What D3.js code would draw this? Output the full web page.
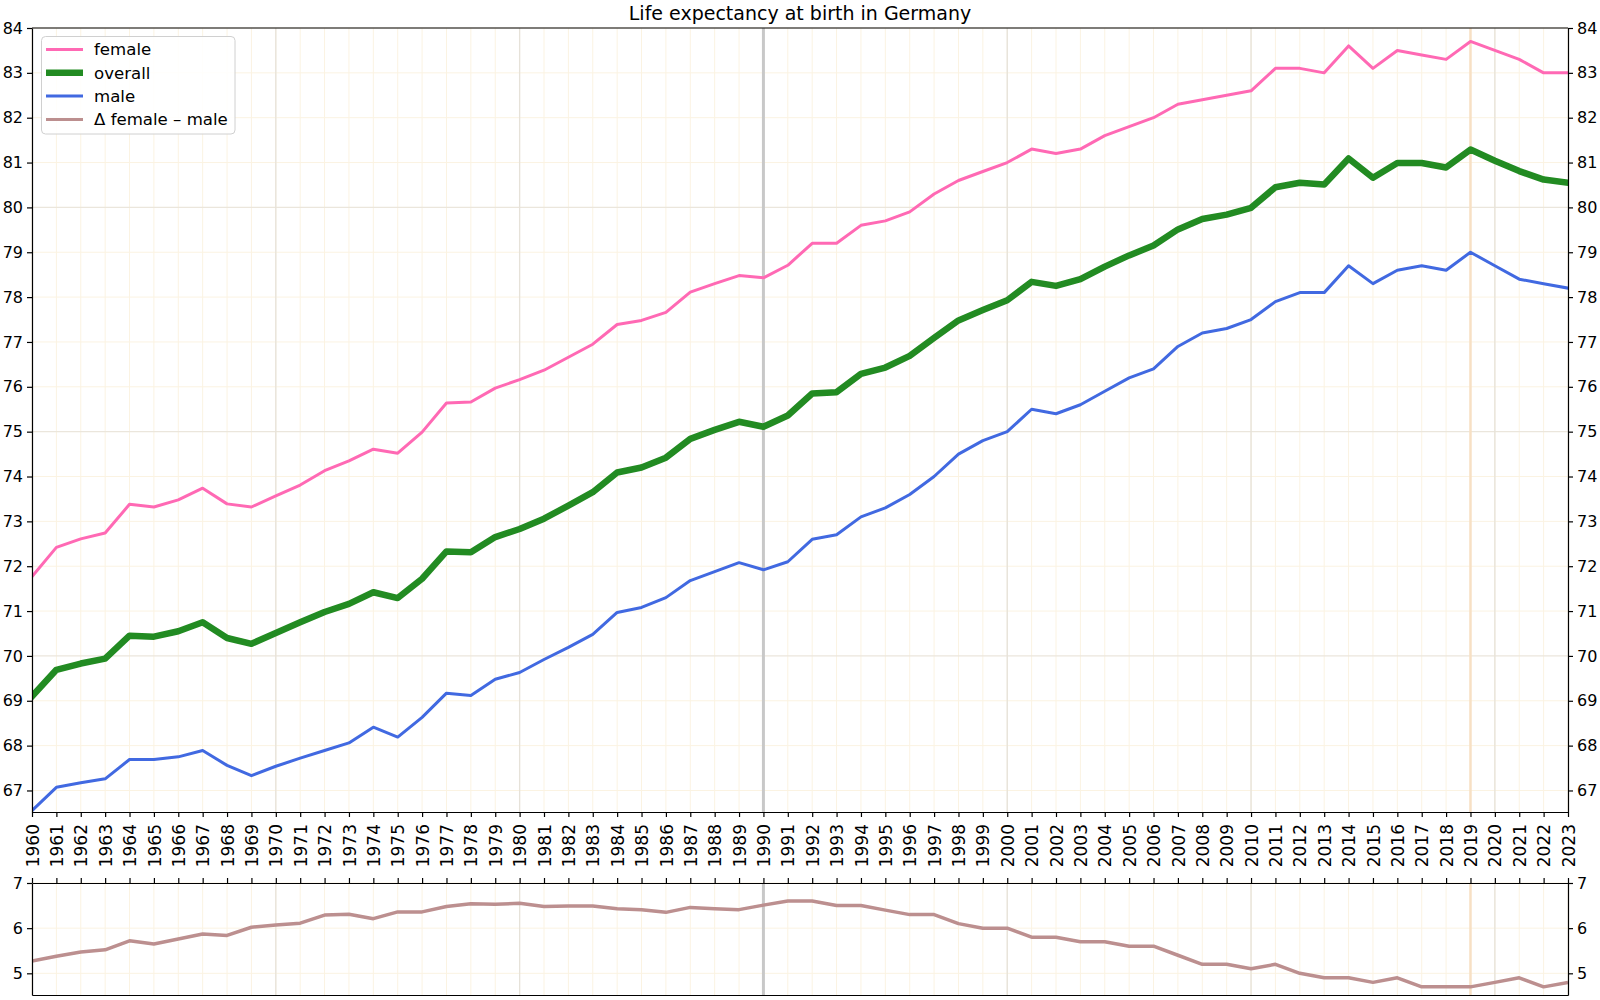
<!DOCTYPE html>
<html>
<head>
<meta charset="utf-8">
<script src="https://cdn.jsdelivr.net/npm/d3@7"></script>
<style>
  body { margin: 0; background: #fff; }
  svg { font-family: "DejaVu Sans", sans-serif; }
  .axis path, .axis line { stroke: #000; stroke-width: 1.2; }
  .axis text { fill: #000; font-size: 16px; font-family: "DejaVu Sans", sans-serif; }
</style>
</head>
<body>
<svg id="chart" width="1600" height="1000"></svg>
<script>
// years on the x axis
var years = [1960, 1961, 1962, 1963, 1964, 1965, 1966, 1967, 1968, 1969,
  1970, 1971, 1972, 1973, 1974, 1975, 1976, 1977, 1978, 1979,
  1980, 1981, 1982, 1983, 1984, 1985, 1986, 1987, 1988, 1989,
  1990, 1991, 1992, 1993, 1994, 1995, 1996, 1997, 1998, 1999,
  2000, 2001, 2002, 2003, 2004, 2005, 2006, 2007, 2008, 2009,
  2010, 2011, 2012, 2013, 2014, 2015, 2016, 2017, 2018, 2019,
  2020, 2021, 2022, 2023];

var female = [71.77, 72.42, 72.61, 72.74, 73.38, 73.32, 73.48, 73.74, 73.39, 73.32,
  73.57, 73.81, 74.13, 74.35, 74.61, 74.52, 74.99, 75.64, 75.66, 75.97,
  76.16, 76.37, 76.66, 76.95, 77.39, 77.48, 77.66, 78.11, 78.30, 78.48,
  78.43, 78.71, 79.2, 79.2, 79.6, 79.7, 79.9, 80.3, 80.6, 80.8,
  81.0, 81.3, 81.2, 81.3, 81.6, 81.8, 82.0, 82.3, 82.4, 82.5,
  82.6, 83.1, 83.1, 83.0, 83.6, 83.1, 83.5, 83.4, 83.3, 83.7,
  83.5, 83.3, 83.0, 83.0];

var overall = [69.10, 69.69, 69.83, 69.94, 70.45, 70.43, 70.55, 70.75, 70.40, 70.27,
  70.51, 70.75, 70.98, 71.16, 71.42, 71.29, 71.72, 72.33, 72.31, 72.65,
  72.83, 73.06, 73.35, 73.65, 74.09, 74.20, 74.42, 74.84, 75.04, 75.22,
  75.11, 75.36, 75.85, 75.88, 76.29, 76.43, 76.69, 77.09, 77.48, 77.71,
  77.93, 78.34, 78.25, 78.40, 78.68, 78.93, 79.15, 79.51, 79.74, 79.84,
  79.99, 80.45, 80.55, 80.51, 81.09, 80.66, 80.99, 80.99, 80.89, 81.29,
  81.04, 80.81, 80.62, 80.55];

var male = [66.55, 67.07, 67.17, 67.26, 67.69, 67.69, 67.75, 67.89, 67.56, 67.33,
  67.54, 67.72, 67.89, 68.06, 68.41, 68.19, 68.63, 69.17, 69.12, 69.48,
  69.63, 69.92, 70.19, 70.48, 70.97, 71.08, 71.30, 71.68, 71.88, 72.08,
  71.92, 72.10, 72.6, 72.7, 73.1, 73.3, 73.6, 74.0, 74.5, 74.8,
  75.0, 75.5, 75.4, 75.6, 75.9, 76.2, 76.4, 76.9, 77.2, 77.3,
  77.5, 77.9, 78.1, 78.1, 78.7, 78.3, 78.6, 78.7, 78.6, 79.0,
  78.7, 78.4, 78.3, 78.2];

var delta = [5.27, 5.38, 5.47, 5.52, 5.72, 5.65, 5.76, 5.87, 5.84, 6.02,
  6.07, 6.11, 6.29, 6.31, 6.21, 6.36, 6.36, 6.48, 6.54, 6.53,
  6.55, 6.48, 6.49, 6.49, 6.43, 6.41, 6.35, 6.46, 6.43, 6.41,
  6.51, 6.6, 6.6, 6.5, 6.5, 6.4, 6.3, 6.3, 6.1, 6.0,
  6.0, 5.8, 5.8, 5.7, 5.7, 5.6, 5.6, 5.4, 5.2, 5.2,
  5.1, 5.2, 5.0, 4.9, 4.9, 4.8, 4.9, 4.7, 4.7, 4.7,
  4.8, 4.9, 4.7, 4.8];

var mainTicks = [67, 68, 69, 70, 71, 72, 73, 74, 75, 76, 77, 78, 79, 80, 81, 82, 83, 84];
var deltaTicks = [5, 6, 7];
var decadeYears = [1970, 1980, 2000, 2010, 2020];
var markYears = [{ year: 1990, color: '#c8c8c8', width: 3 }, { year: 2019, color: '#f7e0c4', width: 2.5 }];

var series = [
  { key: 'female', values: female, color: '#ff69b4', width: 3 },
  { key: 'overall', values: overall, color: '#228b22', width: 6.5 },
  { key: 'male', values: male, color: '#4169e1', width: 3 }
];

var left = 32, right = 1568;
var mainTop = 28, mainBottom = 812;
var subTop = 883, subBottom = 995;

var svg = d3.select('#chart');

var x = d3.scaleLinear().domain([1960, 2023]).range([left, right]);
var y = d3.scaleLinear().domain([66.52, 84]).range([mainBottom, mainTop]);
var y2 = d3.scaleLinear().domain([4.52, 7]).range([subBottom, subTop]);

svg.append('defs').selectAll('clipPath')
  .data([['clipMain', mainTop, mainBottom], ['clipSub', subTop, subBottom]])
  .enter().append('clipPath').attr('id', function(d) { return d[0]; })
  .append('rect')
  .attr('x', left).attr('y', function(d) { return d[1]; })
  .attr('width', right - left).attr('height', function(d) { return d[2] - d[1]; });

// grid for a panel
function drawGrid(g, ys, yTicks, top, bottom, majorTest) {
  g.selectAll('.vminor').data(years).enter().append('line')
    .attr('x1', function(d) { return x(d); }).attr('x2', function(d) { return x(d); })
    .attr('y1', top).attr('y2', bottom)
    .attr('stroke', '#fbf3e2').attr('stroke-width', 1);
  g.selectAll('.hline').data(yTicks).enter().append('line')
    .attr('x1', left).attr('x2', right)
    .attr('y1', function(d) { return ys(d); }).attr('y2', function(d) { return ys(d); })
    .attr('stroke', function(d) { return majorTest(d) ? '#ebe6dc' : '#fbf3e2'; })
    .attr('stroke-width', function(d) { return majorTest(d) ? 1.3 : 1; });
  g.selectAll('.vmajor').data(decadeYears).enter().append('line')
    .attr('x1', function(d) { return x(d); }).attr('x2', function(d) { return x(d); })
    .attr('y1', top).attr('y2', bottom)
    .attr('stroke', '#e6e2d9').attr('stroke-width', 1.3);
  g.selectAll('.vmark').data(markYears).enter().append('line')
    .attr('x1', function(d) { return x(d.year); }).attr('x2', function(d) { return x(d.year); })
    .attr('y1', top).attr('y2', bottom)
    .attr('stroke', function(d) { return d.color; })
    .attr('stroke-width', function(d) { return d.width; });
}

drawGrid(svg.append('g'), y, mainTicks, mainTop, mainBottom, function(d) { return d % 5 === 0; });
drawGrid(svg.append('g'), y2, deltaTicks, subTop, subBottom, function(d) { return false; });

// lines in main panel
var mainG = svg.append('g').attr('clip-path', 'url(#clipMain)');
series.forEach(function(s) {
  var line = d3.line().x(function(d, i) { return x(years[i]); }).y(function(d) { return y(d); });
  mainG.append('path')
    .datum(s.values)
    .attr('d', line)
    .attr('fill', 'none')
    .attr('stroke', s.color)
    .attr('stroke-width', s.width)
    .attr('stroke-linejoin', 'round')
    .attr('stroke-linecap', 'square');
});

var subG = svg.append('g').attr('clip-path', 'url(#clipSub)');
subG.append('path')
  .datum(delta)
  .attr('d', d3.line().x(function(d, i) { return x(years[i]); }).y(function(d) { return y2(d); }))
  .attr('fill', 'none')
  .attr('stroke', '#bc8f8f')
  .attr('stroke-width', 3.5)
  .attr('stroke-linejoin', 'round');

// axes
svg.append('g').attr('class', 'axis').attr('transform', 'translate(' + left + ',0)')
  .call(d3.axisLeft(y).tickValues(mainTicks).tickSize(5).tickPadding(4).tickSizeOuter(0));
svg.append('g').attr('class', 'axis').attr('transform', 'translate(' + right + ',0)')
  .call(d3.axisRight(y).tickValues(mainTicks).tickSize(5).tickPadding(4).tickSizeOuter(0));

var xAxis = svg.append('g').attr('class', 'axis').attr('transform', 'translate(0,' + mainBottom + ')')
  .call(d3.axisBottom(x).tickValues(years).tickFormat(d3.format('d')).tickSize(5).tickSizeOuter(0));
xAxis.selectAll('text')
  .attr('y', 0).attr('x', 0).attr('dy', '0.36em')
  .attr('transform', 'translate(0,12) rotate(-90)')
  .style('text-anchor', 'end')
  .style('font-size', '17px');

svg.append('g').attr('class', 'axis').attr('transform', 'translate(0,' + subTop + ')')
  .call(d3.axisTop(x).tickValues(years).tickFormat('').tickSize(5).tickSizeOuter(0));
svg.append('g').attr('class', 'axis').attr('transform', 'translate(0,' + subBottom + ')')
  .call(d3.axisBottom(x).tickValues([]).tickSizeOuter(0));
svg.append('g').attr('class', 'axis').attr('transform', 'translate(' + left + ',0)')
  .call(d3.axisLeft(y2).tickValues(deltaTicks).tickFormat(d3.format('d')).tickSize(5).tickPadding(4).tickSizeOuter(0));
svg.append('g').attr('class', 'axis').attr('transform', 'translate(' + right + ',0)')
  .call(d3.axisRight(y2).tickValues(deltaTicks).tickFormat(d3.format('d')).tickSize(5).tickPadding(4).tickSizeOuter(0));

// frame top edge of main panel
svg.append('line').attr('x1', left).attr('x2', right).attr('y1', mainTop).attr('y2', mainTop)
  .attr('stroke', '#000').attr('stroke-width', 1.2);

// title
svg.append('text')
  .attr('x', (left + right) / 2).attr('y', 20)
  .attr('text-anchor', 'middle')
  .style('font-size', '19px')
  .text('Life expectancy at birth in Germany');

// legend
var legendItems = [
  { label: 'female', color: '#ff69b4', width: 3 },
  { label: 'overall', color: '#228b22', width: 6.5 },
  { label: 'male', color: '#4169e1', width: 3 },
  { label: '\u0394 female \u2013 male', color: '#bc8f8f', width: 3 }
];
var legend = svg.append('g');
legend.append('rect')
  .attr('x', 41.5).attr('y', 36.5).attr('width', 193.5).attr('height', 97.5)
  .attr('rx', 4).attr('fill', '#fff').attr('fill-opacity', 0.85)
  .attr('stroke', '#d0d0d0').attr('stroke-width', 1);
var rows = legend.selectAll('.row').data(legendItems).enter().append('g')
  .attr('transform', function(d, i) { return 'translate(0,' + (49.5 + i * 23.3) + ')'; });
rows.append('line')
  .attr('x1', 46).attr('x2', 83).attr('y1', 0).attr('y2', 0)
  .attr('stroke', function(d) { return d.color; })
  .attr('stroke-width', function(d) { return d.width; });
rows.append('text')
  .attr('x', 94).attr('y', 0).attr('dy', '0.35em')
  .style('font-size', '16.6px')
  .text(function(d) { return d.label; });
</script>
</body>
</html>
